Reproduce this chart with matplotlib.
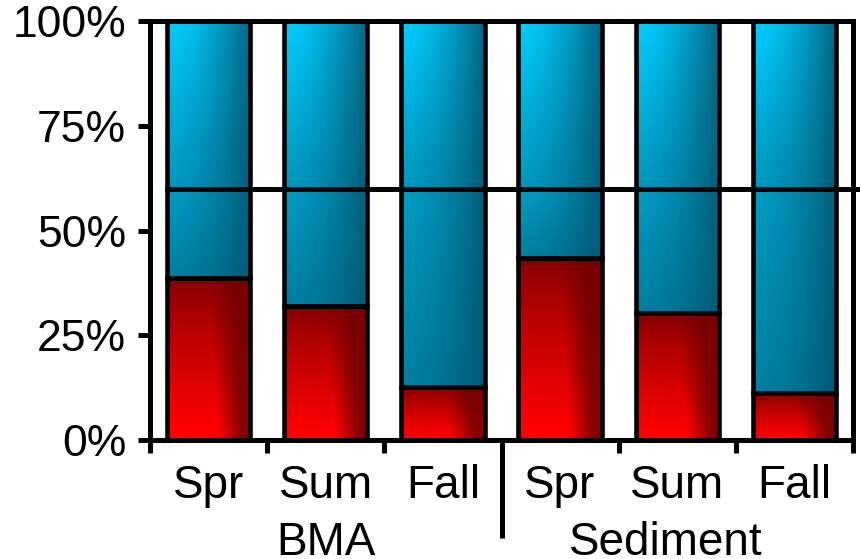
import numpy as np
import matplotlib.pyplot as plt
from matplotlib.transforms import blended_transform_factory

plt.rcParams['font.family'] = ['Liberation Sans', 'DejaVu Sans']

# values (percent of total)
seasons = ['Spr', 'Sum', 'Fall', 'Spr', 'Sum', 'Fall']
groups = ['BMA', 'Sediment']
group_pos = [1, 3.9]
red_pct = [38.7, 32.0, 12.7, 43.5, 30.2, 11.2]
split_pct = 60

x = np.arange(len(seasons))
lower_blue = [split_pct - r for r in red_pct]
upper_blue = [100 - split_pct] * len(seasons)


def gradient(kind, n=120):
    u = np.linspace(0, 1, n)[None, :]      # left -> right
    v = np.linspace(0, 1, n)[:, None]      # bottom -> top
    if kind == 'red':
        lo, hi = np.array([118, 0, 0]), np.array([255, 0, 0])
        w = u + 0.12 * (v - 0.5)
        h = np.clip(1.0 - np.clip((w - 0.55) / 0.3, 0, 1) * 0.9, 0, 1)
        t = np.clip(1.05 - v, 0, 1) ** 0.75 * h
    else:
        lo, hi = np.array([0, 82, 108]), np.array([0, 205, 255])
        h = np.clip(1.0 - 0.85 * u ** 1.6, 0, 1)
        if kind == 'upper':
            t = h * (0.55 + 0.45 * v)
        else:
            t = h * (0.36 + 0.24 * v)
    img = lo + np.clip(t, 0, 1)[..., None] * (hi - lo)
    return img / 255.0


fig = plt.figure(figsize=(8.6, 5.59), dpi=100)
ax = fig.add_axes([0.1744, 0.2129, 0.8175, 0.7495])

width = 0.71
edge = dict(facecolor='none', edgecolor='black', linewidth=3.3, zorder=3)
red_bars = ax.bar(x, red_pct, width, **edge)
low_bars = ax.bar(x, lower_blue, width, bottom=red_pct, **edge)
up_bars = ax.bar(x, upper_blue, width, bottom=split_pct, **edge)

for bars, kind in [(red_bars, 'red'), (low_bars, 'lower'), (up_bars, 'upper')]:
    for p in bars:
        x0, y0 = p.get_x(), p.get_y()
        im = ax.imshow(gradient(kind), origin='lower', aspect='auto', zorder=1,
                       extent=[x0, x0 + p.get_width(), y0, y0 + p.get_height()])
        im.set_clip_path(p)

ax.set_xlim(-0.5, len(seasons) - 0.5)
ax.set_ylim(0, 100)

# horizontal line at the split, running out past the right edge
trans = blended_transform_factory(ax.transAxes, ax.transData)
ax.plot([(0.5 - width / 2) / 6, 1.012], [split_pct, split_pct], color='black',
        lw=3.6, transform=trans, clip_on=False, zorder=4, solid_capstyle='butt')

for s in ['left', 'bottom', 'top', 'right']:
    ax.spines[s].set_linewidth(3.6)

ax.set_yticks([0, 25, 50, 75, 100])
ax.set_yticklabels(['0%', '25%', '50%', '75%', '100%'])
ax.tick_params(axis='y', direction='out', length=9, width=3.6, pad=8, labelsize=32)

ax.set_xticks(x)
ax.set_xticklabels(seasons)
ax.tick_params(axis='x', which='major', length=0, pad=17.5, labelsize=33)
ax.set_xticks(np.arange(-0.5, len(seasons)), minor=True)
ax.tick_params(axis='x', which='minor', direction='out', length=9, width=3.6)

# group separator and group names
ax.plot([0.5, 0.5], [0, -0.235], color='black', lw=3.6, transform=ax.transAxes,
        clip_on=False, solid_capstyle='butt')
gtrans = blended_transform_factory(ax.transData, ax.transAxes)
for name, pos in zip(groups, group_pos):
    ax.text(pos, -0.274, name, transform=gtrans, ha='center', va='baseline',
            fontsize=33)

fig.savefig('out.png', dpi=100)
